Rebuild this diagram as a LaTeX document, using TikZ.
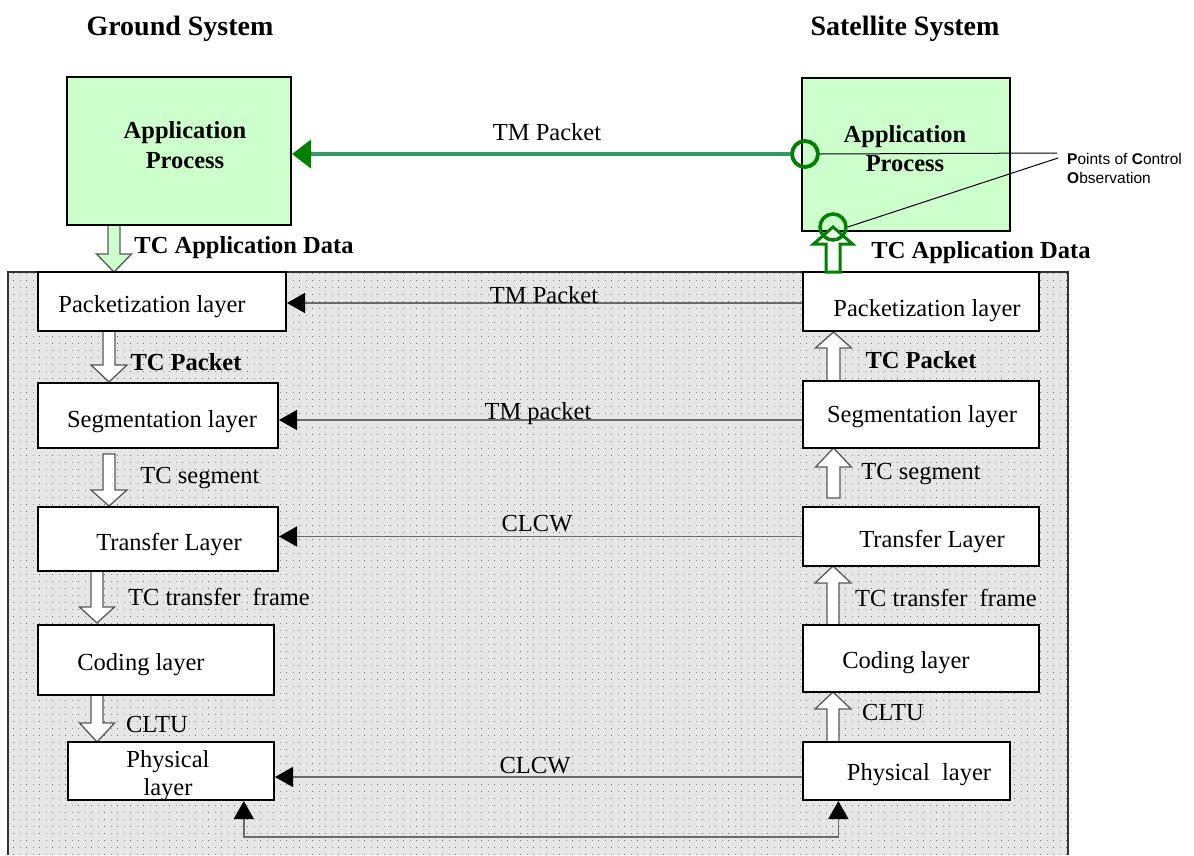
\documentclass[tikz,border=0pt]{standalone}
\usepackage{fontspec}
\setmainfont{Liberation Serif}
\newfontfamily\pocofont{Liberation Sans}
\usetikzlibrary{arrows.meta,patterns,calc}
\pgfdeclarepatternformonly{bgdots}{\pgfpointorigin}{\pgfpoint{1pt}{1pt}}{\pgfpoint{6.5pt}{7pt}}{\pgfpathrectangle{\pgfpointorigin}{\pgfpoint{1pt}{1pt}}\pgfusepath{fill}}
\definecolor{appgreen}{HTML}{CCFFCC}
\definecolor{dkgreen}{HTML}{008000}
\definecolor{lngreen}{HTML}{339966}
\definecolor{bggray}{HTML}{E6E6E6}
\definecolor{dotgray}{HTML}{6E6E6E}
\definecolor{arrgray}{HTML}{6A6A6A}
\newcommand\blkarrow[7][]{\filldraw[blk,#1] (#2-#6,#3) -- (#2-#6,#4) -- (#2-#7,#4) -- (#2,#5) -- (#2+#7,#4) -- (#2+#6,#4) -- (#2+#6,#3) -- cycle;}
\tikzset{
  layerbox/.style={draw=black, line width=2pt, fill=white, inner sep=0pt},
  appbox/.style={draw=black, line width=2pt, fill=appgreen, inner sep=0pt},
  txt/.style={font=\fontsize{24.5}{28}\selectfont, inner sep=0pt, anchor=base},
  btxt/.style={font=\fontsize{24.5}{28}\selectfont\bfseries, inner sep=0pt, anchor=base},
  ttl/.style={font=\fontsize{28}{32}\selectfont\bfseries, inner sep=0pt, anchor=base},
  ptxt/.style={font=\pocofont\fontsize{15.5}{19}\selectfont, inner sep=0pt, anchor=base west},
  thinarr/.style={draw=arrgray, line width=1.5pt, -{Triangle[length=18pt,width=20pt,color=black]}},
  blk/.style={draw=black!65, line width=1.3pt, fill=white, line join=miter},
  poc/.style={circle, draw=dkgreen, line width=3.5pt, minimum size=26pt, inner sep=0pt}
}
\begin{document}
\begin{tikzpicture}[x=1pt,y=-1pt]
\useasboundingbox (0,0) rectangle (1194,855);
% background panel
\fill[bggray] (8,272) rectangle (1068,855);
\fill[pattern=bgdots, pattern color=dotgray] (8,272) rectangle (1068,855);
\draw[line width=1.2pt, black!80] (8,855) -- (8,272) -- (1068,272) -- (1068,855);
% titles
\node[ttl] (tground) at (180,35) {Ground System};
\node[ttl] (tsat) at (905,35) {Satellite System};
% block arrows (white)
\blkarrow[fill=appgreen]{114}{225}{254}{272}{6}{17.5}
\blkarrow{109}{331}{365}{382}{6}{18}
\blkarrow{109}{454}{490}{506}{6}{18}
\blkarrow{97}{571}{607}{623}{6}{17.5}
\blkarrow{97}{695}{723}{742}{6}{17.5}
\blkarrow{833.5}{381}{348}{332}{6.5}{18}
\blkarrow{833.5}{498}{467}{448}{6.5}{18}
\blkarrow{833}{625}{583}{566}{6}{18}
\blkarrow{833}{742}{709}{692}{6}{18}
% application boxes
\node[appbox, minimum width=224pt, minimum height=148pt] (lapp) at (179,151) {};
\node[appbox, minimum width=208pt, minimum height=153pt] (rapp) at (906,154.5) {};
\node[btxt] (lapp1) at (185,138) {Application};
\node[btxt] (lapp2) at (185,168) {Process};
\node[btxt] (rapp1) at (905,142) {Application};
\node[btxt] (rapp2) at (905,171) {Process};
% layer boxes
\node[layerbox, minimum width=248pt, minimum height=59pt] (lpack) at (162,301.5) {};
\node[layerbox, minimum width=240pt, minimum height=65pt] (lseg) at (158,415.5) {};
\node[layerbox, minimum width=240pt, minimum height=64pt] (lxfer) at (158,539) {};
\node[layerbox, minimum width=236pt, minimum height=70pt] (lcod) at (156,660) {};
\node[layerbox, minimum width=206pt, minimum height=58pt] (lphy) at (171,771) {};
\node[layerbox, minimum width=236pt, minimum height=59pt] (rpack) at (921,301.5) {};
\node[layerbox, minimum width=236pt, minimum height=67pt] (rseg) at (921,414.5) {};
\node[layerbox, minimum width=236pt, minimum height=59pt] (rxfer) at (921,536.5) {};
\node[layerbox, minimum width=236pt, minimum height=67pt] (rcod) at (921,658.5) {};
\node[layerbox, minimum width=207pt, minimum height=58pt] (rphy) at (906.5,771) {};
% layer texts
\node[txt] (lpackt) at (152,312) {Packetization layer};
\node[txt] (lsegt) at (162,427) {Segmentation layer};
\node[txt] (lxfert) at (169,550) {Transfer Layer};
\node[txt] (lcodt) at (141,670) {Coding layer};
\node[txt] (lphyt1) at (168,767) {Physical};
\node[txt] (lphyt2) at (168,795) {layer};
\node[txt] (rpackt) at (927,316) {Packetization layer};
\node[txt] (rsegt) at (922,422) {Segmentation layer};
\node[txt] (rxfert) at (932,547) {Transfer Layer};
\node[txt] (rcodt) at (906,668) {Coding layer};
\node[txt] (rphyt) at (919,780) {Physical\ \ layer};
% block arrow labels
\node[btxt] (llab1) at (244,253) {TC Application Data};
\node[btxt] (llab2) at (186,370) {TC Packet};
\node[txt] (llab3) at (200,483) {TC segment};
\node[txt] (llab4) at (219,605) {TC transfer\ \ frame};
\node[txt] (llab5) at (157,732) {CLTU};
\node[btxt] (rlab1) at (981,258) {TC Application Data};
\node[btxt] (rlab2) at (921,368) {TC Packet};
\node[txt] (rlab3) at (921,479) {TC segment};
\node[txt] (rlab4) at (946,606) {TC transfer\ \ frame};
\node[txt] (rlab5) at (893,720) {CLTU};
% horizontal peer arrows
\draw[thinarr] ([yshift=-1.5pt]rpack.west) -- ([yshift=-1.5pt]lpack.east);
\draw[thinarr] ([yshift=-5.5pt]rseg.west) -- ([yshift=-4.5pt]lseg.east);
\draw[thinarr] (rxfer.west) -- ([yshift=2.5pt]lxfer.east);
\draw[thinarr] ([yshift=-6pt]rphy.west) -- ([yshift=-6pt]lphy.east);
\node[txt] (hl1) at (544,303) {TM Packet};
\node[txt] (hl2) at (538,419) {TM packet};
\node[txt] (hl3) at (537,531) {CLCW};
\node[txt] (hl4) at (535,773) {CLCW};
% bottom physical link
\draw[draw=arrgray, line width=1.5pt, {Triangle[length=18pt,width=20pt,color=black]}-{Triangle[length=18pt,width=20pt,color=black]}]
  ($(lphy.south west)!0.85!(lphy.south east)$) -- ++(0,36) -| ($(rphy.south west)!0.174!(rphy.south east)$);
% green application-level link
\node[poc] (pocA) at (805,154) {};
\draw[line width=4pt, lngreen, -{Triangle[length=19pt,width=28pt,color=dkgreen]}] (pocA.west) -- (lapp.east |- pocA.west);
\node[poc] (pocAr) at (805,154) {};
\node[txt] (tmtop) at (547,140) {TM Packet};
\blkarrow[draw=dkgreen, line width=3pt]{833}{272}{244}{227}{7}{19.5}
\node[poc] (pocB) at (833,227) {};
% points of control observation
\node[ptxt] (poco1) at (1067,164) {\textbf{P}oints of \textbf{C}ontrol};
\node[ptxt] (poco2) at (1067,183) {\textbf{O}bservation};
\coordinate (pocoA) at (1057,153);
\coordinate (pocoB) at (1058,158);
\draw[line width=1pt] (pocAr.east) -- (pocoA);
\draw[line width=1pt] (pocB.east) -- (pocoB);
\end{tikzpicture}
\end{document}
